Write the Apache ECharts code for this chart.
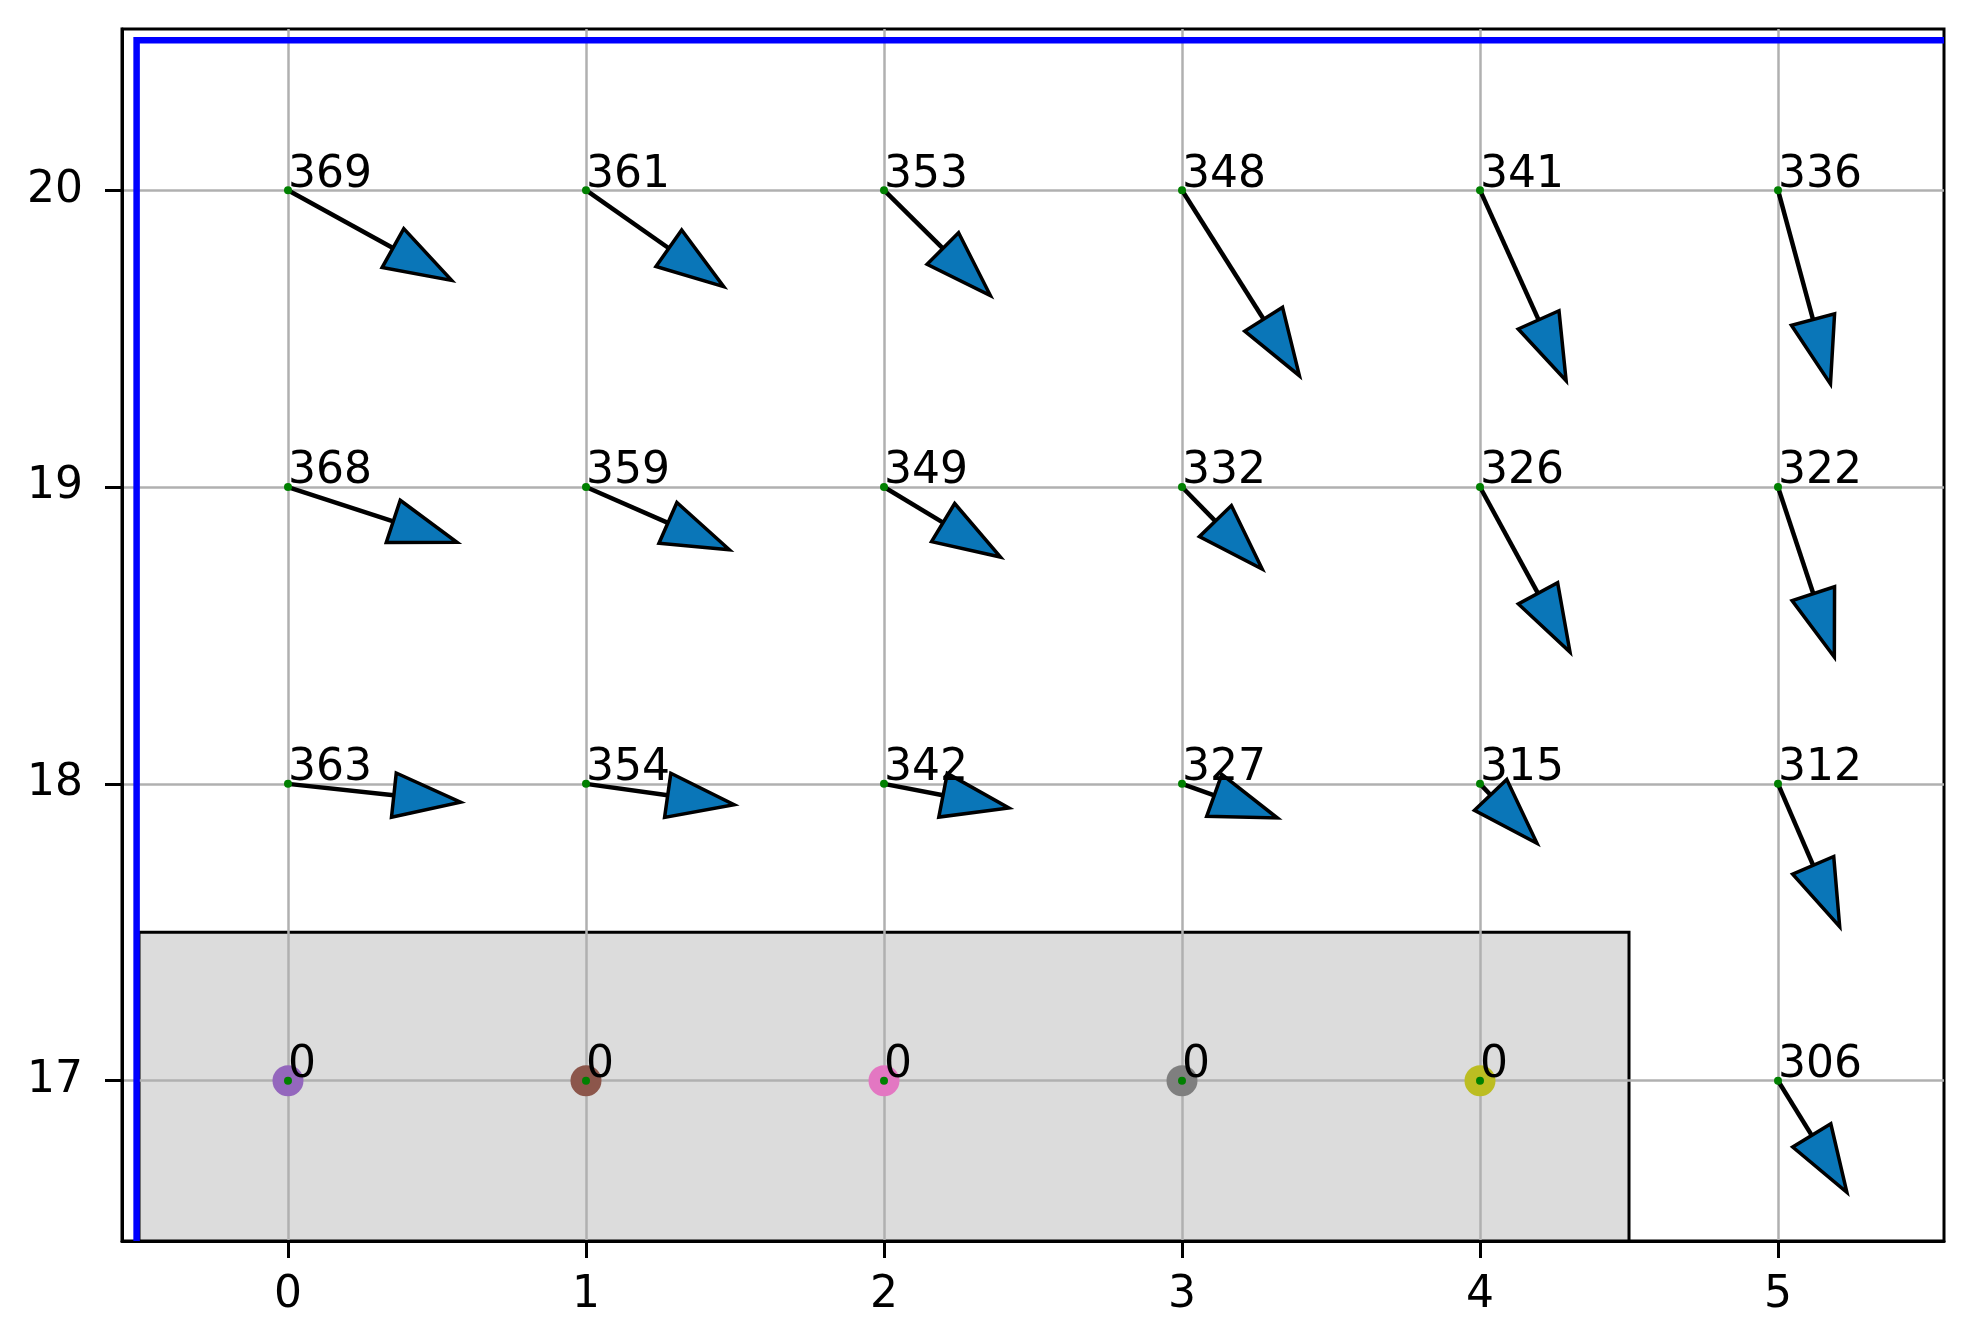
<!DOCTYPE html>
<html>
<head>
<meta charset="utf-8">
<script src="https://cdn.jsdelivr.net/npm/echarts@6/dist/echarts.min.js"></script>
<style>
html, body { margin: 0; padding: 0; background: #fff; }
#chart { width: 1963px; height: 1344px; }
</style>
</head>
<body>
<div id="chart"></div>
<script>
// axis ticks
const xTicks = [0, 1, 2, 3, 4, 5];
const yTicks = [17, 18, 19, 20];

// arrows on the grid: label and arrow vector (to the tip)
const arrowCols = [0, 1, 2, 3, 4, 5];
const row20Labels = [369, 361, 353, 348, 341, 336];
const row20Dx = [0.549, 0.462, 0.357, 0.394, 0.289, 0.176];
const row20Dy = [-0.304, -0.325, -0.355, -0.625, -0.642, -0.653];
const row19Labels = [368, 359, 349, 332, 326, 322];
const row19Dx = [0.567, 0.481, 0.391, 0.269, 0.302, 0.189];
const row19Dy = [-0.186, -0.211, -0.236, -0.276, -0.556, -0.573];
const row18Labels = [363, 354, 342, 327, 315, 312];
const row18Dx = [0.579, 0.497, 0.419, 0.32, 0.191, 0.207];
const row18Dy = [-0.062, -0.07, -0.081, -0.115, -0.2, -0.481];
// bottom row: only the last column has an arrow
const row17Cols = [5];
const row17Labels = [306];
const row17Dx = [0.231];
const row17Dy = [-0.376];

// zero points inside the shaded block
const zeroCols = [0, 1, 2, 3, 4];
const zeroLabels = [0, 0, 0, 0, 0];
const zeroColors = ['#9467bd', '#8c564b', '#e377c2', '#7f7f7f', '#bcbd22'];

// shaded block and blue border line
const blockX = [-0.5, 4.5];
const blockY = [16, 17.5];
const borderLineX = [-0.508, -0.508, 6];
const borderLineY = [16, 20.505, 20.505];

// arrow head size (data units)
const HEAD_W = 0.15;
const HEAD_L = 0.225;
const FONT = '44px "DejaVu Sans"';

const arrowData = [];
function addRow(cols, y, labels, dxs, dys) {
  cols.forEach((c, i) => arrowData.push([c, y, dxs[i], dys[i], labels[i]]));
}
addRow(arrowCols, 20, row20Labels, row20Dx, row20Dy);
addRow(arrowCols, 19, row19Labels, row19Dx, row19Dy);
addRow(arrowCols, 18, row18Labels, row18Dx, row18Dy);
addRow(row17Cols, 17, row17Labels, row17Dx, row17Dy);

const zeroData = zeroCols.map((c, i) => ({ value: [c, 17], itemStyle: { color: zeroColors[i] } }));
const labelData = arrowData.map(d => [d[0], d[1], d[4]])
  .concat(zeroCols.map((c, i) => [c, 17, zeroLabels[i]]));
const dotData = labelData.map(d => [d[0], d[1]]);

const chart = echarts.init(document.getElementById('chart'));

const option = {
  animation: false,
  backgroundColor: '#fff',
  grid: { left: 122, top: 29, width: 1822, height: 1212, show: true, borderColor: '#000', borderWidth: 3 },
  xAxis: {
    type: 'value', min: -0.557, max: 5.557,
    axisLine: { show: true, onZero: false, lineStyle: { color: '#000', width: 3 } },
    axisTick: { show: true, customValues: xTicks, length: 17, lineStyle: { color: '#000', width: 3 } },
    axisLabel: { customValues: xTicks, color: '#000', fontSize: 44, fontFamily: 'DejaVu Sans', margin: 33 },
    splitLine: { show: true, lineStyle: { color: '#b0b0b0', width: 2.5 } }
  },
  yAxis: {
    type: 'value', min: 16.46, max: 20.543,
    axisLine: { show: true, onZero: false, lineStyle: { color: '#000', width: 3 } },
    axisTick: { show: true, customValues: yTicks, length: 17, lineStyle: { color: '#000', width: 3 } },
    axisLabel: { customValues: yTicks, color: '#000', fontSize: 44, fontFamily: 'DejaVu Sans', margin: 39 },
    splitLine: { show: true, lineStyle: { color: '#b0b0b0', width: 2.5 } }
  },
  series: [
    {
      // shaded block, below the grid lines
      type: 'custom', z: -1, clip: true,
      data: [[blockX[0], blockY[0], blockX[1], blockY[1]]],
      renderItem: function (params, api) {
        const a = api.coord([api.value(0), api.value(3)]);
        const b = api.coord([api.value(2), api.value(1)]);
        const bottom = Math.min(b[1], params.coordSys.y + params.coordSys.height + 3);
        return {
          type: 'rect',
          shape: { x: a[0], y: a[1], width: b[0] - a[0], height: bottom - a[1] },
          style: { fill: '#dcdcdc', stroke: '#000', lineWidth: 3 }
        };
      }
    },
    {
      // blue border line
      type: 'custom', clip: true,
      data: [0],
      renderItem: function (params, api) {
        const cs = params.coordSys;
        const pts = borderLineX.map((x, i) => {
          const p = api.coord([x, borderLineY[i]]);
          return [Math.min(p[0], cs.x + cs.width), Math.min(p[1], cs.y + cs.height)];
        });
        return { type: 'polyline', shape: { points: pts }, style: { stroke: '#0000ff', lineWidth: 6.5, fill: null } };
      }
    },
    {
      // arrows
      type: 'custom', clip: true,
      data: arrowData,
      renderItem: function (params, api) {
        const x = api.value(0), y = api.value(1), dx = api.value(2), dy = api.value(3);
        const len = Math.hypot(dx, dy);
        const ux = dx / len, uy = dy / len;
        const bx = x + dx - HEAD_L * ux, by = y + dy - HEAD_L * uy;
        const px = -uy, py = ux;
        const p0 = api.coord([x, y]);
        const pb = api.coord([bx, by]);
        const tip = api.coord([x + dx, y + dy]);
        const c1 = api.coord([bx + HEAD_W / 2 * px, by + HEAD_W / 2 * py]);
        const c2 = api.coord([bx - HEAD_W / 2 * px, by - HEAD_W / 2 * py]);
        return {
          type: 'group',
          children: [
            { type: 'line', shape: { x1: p0[0], y1: p0[1], x2: pb[0], y2: pb[1] }, style: { stroke: '#000', lineWidth: 4.5 } },
            { type: 'polygon', shape: { points: [c1, tip, c2] }, style: { fill: '#0a76b8', stroke: '#000', lineWidth: 3.5, lineJoin: 'miter' } }
          ]
        };
      }
    },
    {
      // coloured zero points
      type: 'scatter', symbol: 'circle', symbolSize: 31,
      itemStyle: { opacity: 1 },
      data: zeroData
    },
    {
      // small green origin dots
      type: 'scatter', symbol: 'circle', symbolSize: 8, z: 3,
      itemStyle: { color: '#008000', opacity: 1 },
      data: dotData
    },
    {
      // value labels
      type: 'custom', z: 4,
      data: labelData,
      renderItem: function (params, api) {
        const p = api.coord([api.value(0), api.value(1)]);
        return {
          type: 'text', x: p[0], y: p[1] - 15,
          style: { text: String(api.value(2)), font: FONT, fill: '#000', align: 'left', verticalAlign: 'middle' }
        };
      }
    }
  ]
};

chart.setOption(option);
</script>
</body>
</html>
